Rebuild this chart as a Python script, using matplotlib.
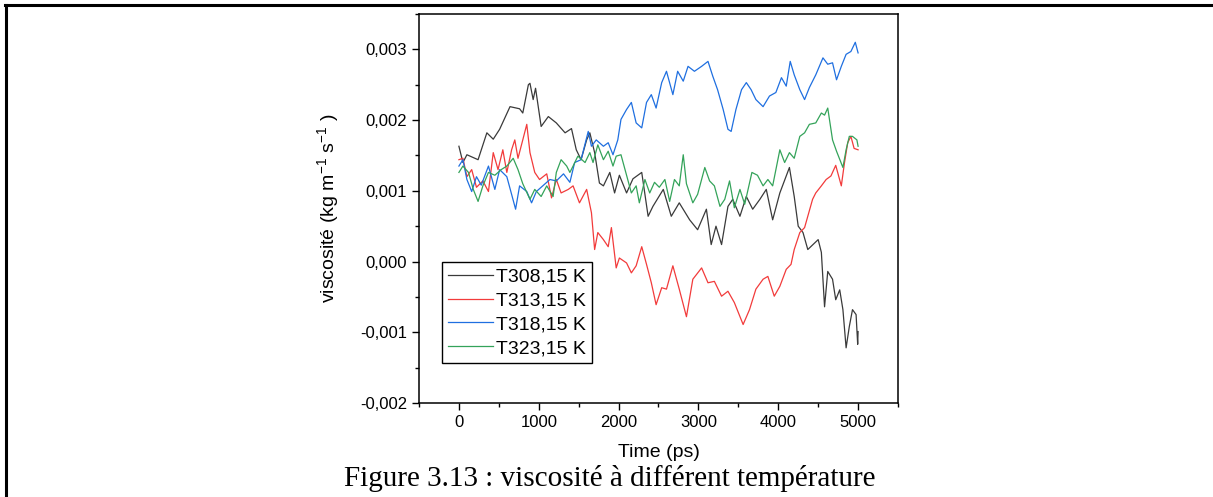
import matplotlib; matplotlib.use("Agg")
import matplotlib.pyplot as plt
from matplotlib.lines import Line2D
from matplotlib.ticker import MultipleLocator, FuncFormatter

plt.rcParams['font.family'] = ['Liberation Sans', 'DejaVu Sans']
plt.rcParams['mathtext.fontset'] = 'custom'
plt.rcParams['mathtext.rm'] = 'Liberation Sans'
plt.rcParams['mathtext.default'] = 'regular'

# viscosity (x 1e-3 kg m-1 s-1) vs time (ps)
t308 = [0, 50, 100, 240, 350, 430, 510, 640, 760, 800, 870, 890, 930, 960, 1030, 1120,
        1220, 1330, 1410, 1470, 1530, 1600, 1640, 1700, 1760, 1810, 1890, 1950, 2010, 2100,
        2180, 2290, 2370, 2430, 2560, 2660, 2760, 2890, 2990, 3100, 3160, 3220, 3290, 3370,
        3430, 3520, 3600, 3680, 3770, 3850, 3930, 4020, 4140, 4200, 4250, 4310, 4370, 4500,
        4540, 4580, 4620, 4680, 4720, 4770, 4810, 4850, 4890, 4930, 4975, 4995, 5000]
v308 = [1.63, 1.40, 1.51, 1.44, 1.82, 1.73, 1.87, 2.19, 2.16, 2.10, 2.50, 2.52, 2.29, 2.45, 1.91, 2.05,
        1.96, 1.82, 1.88, 1.58, 1.44, 1.72, 1.82, 1.54, 1.11, 1.07, 1.26, 0.97, 1.22, 0.97,
        1.17, 1.26, 0.64, 0.78, 1.02, 0.64, 0.83, 0.59, 0.45, 0.74, 0.24, 0.50, 0.24, 0.78,
        0.88, 0.64, 0.92, 0.74, 0.88, 1.02, 0.59, 0.97, 1.33, 0.92, 0.50, 0.41, 0.17, 0.31,
        0.13, -0.64, -0.14, -0.25, -0.54, -0.40, -0.68, -1.22, -0.92, -0.68, -0.75, -1.17, -0.99]

t313 = [0, 50, 100, 160, 220, 300, 370, 430, 490, 550, 600, 660, 700, 740, 800, 850, 890,
        950, 1010, 1100, 1160, 1220, 1280, 1370, 1430, 1510, 1600, 1660, 1700, 1740, 1810,
        1870, 1910, 1970, 2010, 2100, 2160, 2220, 2290, 2350, 2410, 2470, 2540, 2600, 2680,
        2760, 2850, 2930, 3040, 3120, 3200, 3290, 3370, 3450, 3560, 3640, 3720, 3810, 3870,
        3950, 4020, 4100, 4160, 4200, 4270, 4330, 4370, 4430, 4470, 4540, 4600, 4660, 4720,
        4790, 4830, 4870, 4910, 4950, 5000]
v313 = [1.44, 1.46, 1.20, 1.30, 1.05, 1.14, 0.99, 1.54, 1.30, 1.58, 1.26, 1.58, 1.72, 1.46,
        1.72, 1.94, 1.54, 1.26, 1.16, 1.24, 0.90, 1.16, 0.97, 1.02, 1.07, 0.83, 1.02, 0.69,
        0.17, 0.41, 0.31, 0.21, 0.48, -0.09, 0.05, -0.02, -0.16, -0.06, 0.21, -0.04, -0.30,
        -0.61, -0.37, -0.39, -0.06, -0.39, -0.78, -0.25, -0.09, -0.30, -0.28, -0.49, -0.42,
        -0.58, -0.89, -0.68, -0.39, -0.25, -0.21, -0.49, -0.35, -0.11, -0.04, 0.17, 0.41,
        0.48, 0.64, 0.88, 0.97, 1.07, 1.16, 1.21, 1.36, 1.07, 1.40, 1.68, 1.77, 1.60, 1.58]

t318 = [0, 50, 100, 160, 220, 280, 370, 450, 510, 600, 660, 710, 760, 850, 910, 970,
        1050, 1140, 1220, 1310, 1390, 1450, 1530, 1620, 1660, 1720, 1810, 1870, 1930, 1990,
        2030, 2100, 2160, 2220, 2290, 2350, 2410, 2470, 2540, 2600, 2680, 2740, 2810, 2870,
        2950, 3040, 3120, 3180, 3240, 3310, 3370, 3410, 3470, 3540, 3600, 3660, 3720, 3810,
        3890, 3970, 4040, 4100, 4150, 4200, 4270, 4330, 4390, 4470, 4560, 4620, 4680, 4730,
        4790, 4850, 4910, 4965, 5000]
v318 = [1.35, 1.44, 1.16, 0.99, 1.20, 1.08, 1.35, 1.02, 1.30, 1.20, 0.95, 0.74, 1.07, 0.99,
        0.83, 0.99, 1.07, 1.16, 1.14, 1.24, 1.12, 1.40, 1.44, 1.84, 1.63, 1.72, 1.63, 1.68,
        1.51, 1.72, 2.01, 2.15, 2.25, 1.96, 1.89, 2.25, 2.36, 2.17, 2.53, 2.69, 2.36, 2.69,
        2.55, 2.76, 2.69, 2.76, 2.83, 2.62, 2.43, 2.15, 1.87, 1.84, 2.15, 2.43, 2.53, 2.43,
        2.29, 2.19, 2.34, 2.39, 2.60, 2.48, 2.83, 2.64, 2.43, 2.29, 2.46, 2.64, 2.88, 2.79,
        2.81, 2.57, 2.76, 2.93, 2.97, 3.10, 2.95]

t323 = [0, 50, 120, 180, 240, 300, 370, 450, 530, 600, 680, 740, 800, 890, 950, 1030,
        1100, 1180, 1220, 1280, 1350, 1390, 1430, 1490, 1580, 1640, 1680, 1740, 1810, 1870,
        1930, 1970, 2030, 2100, 2160, 2220, 2260, 2330, 2390, 2450, 2510, 2580, 2640, 2700,
        2760, 2810, 2850, 2930, 2990, 3080, 3140, 3200, 3270, 3330, 3390, 3450, 3520, 3580,
        3670, 3740, 3810, 3870, 3930, 4020, 4080, 4140, 4200, 4270, 4330, 4390, 4470, 4540,
        4580, 4620, 4680, 4730, 4810, 4850, 4890, 4930, 4985, 5000]
v323 = [1.26, 1.35, 1.26, 1.02, 0.85, 1.07, 1.26, 1.22, 1.30, 1.35, 1.46, 1.30, 1.10, 0.88,
        1.02, 0.92, 1.07, 0.92, 1.26, 1.44, 1.35, 1.26, 1.35, 1.49, 1.40, 1.54, 1.40, 1.65,
        1.44, 1.56, 1.35, 1.49, 1.51, 1.22, 0.97, 1.07, 0.83, 1.16, 0.97, 1.12, 1.05, 1.16,
        0.85, 1.16, 1.07, 1.51, 1.10, 0.83, 0.95, 1.33, 1.14, 1.07, 0.78, 0.88, 1.14, 0.76,
        1.02, 0.81, 1.26, 1.22, 1.07, 1.16, 1.07, 1.58, 1.40, 1.54, 1.46, 1.77, 1.82, 1.94,
        1.96, 2.10, 2.07, 2.17, 1.72, 1.56, 1.33, 1.58, 1.77, 1.77, 1.72, 1.63]

labels = ["T308,15 K", "T313,15 K", "T318,15 K", "T323,15 K"]
colors = ["#3a3a3a", "#f23b3b", "#1f6fe0", "#34a35a"]

fig = plt.figure(figsize=(12.13, 4.97), dpi=100)
ax = fig.add_axes([419/1213, 1-403/497, 479/1213, 389/497])

for t, v, lab, c in zip([t308, t313, t318, t323], [v308, v313, v318, v323], labels, colors):
    ax.plot(t, [x*1e-3 for x in v], color=c, lw=0.9, label=lab)

ax.set_xlim(-500, 5500)
ax.set_ylim(-0.002, 0.0035)
ax.xaxis.set_major_locator(MultipleLocator(1000))
ax.xaxis.set_minor_locator(MultipleLocator(500))
ax.yaxis.set_major_locator(MultipleLocator(0.001))
ax.yaxis.set_minor_locator(MultipleLocator(0.0005))
ax.yaxis.set_major_formatter(FuncFormatter(lambda y, p: f"{y:.3f}".replace(".", ",").replace("-0,000", "0,000")))
ax.tick_params(which="major", direction="out", length=5, width=1, labelsize=12)
ax.tick_params(which="minor", direction="out", length=3, width=1)
for s in ax.spines.values():
    s.set_linewidth(1.1)

ax.set_xlabel("Time (ps)", fontsize=14, labelpad=10)
ax.set_ylabel("viscosité (kg m$^{-1}$ s$^{-1}$ )", fontsize=14, labelpad=14)

leg = ax.legend(loc="lower left", bbox_to_anchor=(0.048, 0.103), fontsize=14, frameon=True,
                fancybox=False, edgecolor="black", framealpha=1, borderpad=0.3,
                labelspacing=0.32, handlelength=2.3, handletextpad=0.2, borderaxespad=0)
leg.get_frame().set_linewidth(1.0)

fig.text(610/1213, 1-478/497, "Figure 3.13 : viscosité à différent température",
         family="Liberation Serif", fontsize=21, ha="center", va="center")

# page frame lines
fig.add_artist(Line2D([5/1213, 1], [1-5/497, 1-5/497], color="black", lw=2.2))
fig.add_artist(Line2D([6/1213, 6/1213], [0, 1-5/497], color="black", lw=2.2))

fig.savefig("out.png", dpi=100, facecolor="white")
